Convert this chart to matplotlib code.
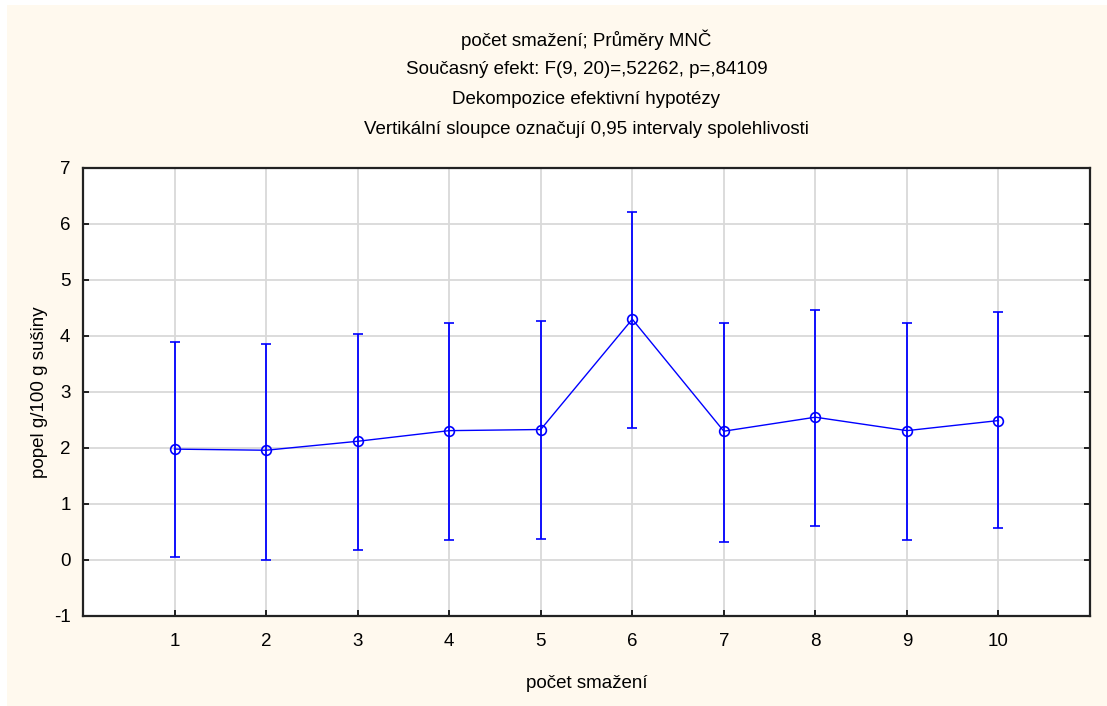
import matplotlib
matplotlib.use("Agg")
import matplotlib.pyplot as plt
import numpy as np
from matplotlib.patches import Rectangle

categories = [1, 2, 3, 4, 5, 6, 7, 8, 9, 10]
means = [1.98, 1.96, 2.12, 2.31, 2.33, 4.30, 2.30, 2.55, 2.31, 2.49]
upper = [3.90, 3.86, 4.03, 4.23, 4.27, 6.22, 4.23, 4.47, 4.23, 4.43]
lower = [0.05, 0.00, 0.17, 0.36, 0.37, 2.35, 0.33, 0.61, 0.36, 0.58]
y_ticks = [-1, 0, 1, 2, 3, 4, 5, 6, 7]

title_lines = [
    "počet smažení; Průměry MNČ",
    "Současný efekt: F(9, 20)=,52262, p=,84109",
    "Dekompozice efektivní hypotézy",
    "Vertikální sloupce označují 0,95 intervaly spolehlivosti",
]

plt.rcParams['font.family'] = ['Liberation Sans', 'DejaVu Sans']

fig = plt.figure(figsize=(11.07, 7.06), dpi=100, facecolor='white')
fig.patches.append(Rectangle((7/1107, 0), 1 - 7/1107, 1 - 5/706,
                             transform=fig.transFigure, facecolor='#FFF9EE',
                             edgecolor='none', zorder=-10))

ax = fig.add_axes([83/1107, 1 - 616/706, (1090-83)/1107, (616-168)/706])
ax.set_facecolor('white')

x = np.array(categories)
m = np.array(means)
yerr = [m - np.array(lower), np.array(upper) - m]
ax.errorbar(x, m, yerr=yerr, color='#0000FF', ecolor='#0000FF', elinewidth=1.3,
            capsize=3.5, capthick=1.3, linewidth=1.0, marker='o', markersize=7,
            markerfacecolor='none', markeredgecolor='#0000FF', markeredgewidth=1.2,
            zorder=3)

ax.set_xlim(0, 11)
ax.set_ylim(-1, 7)
ax.set_xticks(categories)
ax.set_xticklabels([str(c) for c in categories])
ax.set_yticks(y_ticks)
ax.set_yticklabels([str(t) for t in y_ticks])
ax.grid(True, color='#D9D9D9', linewidth=1.3, zorder=0)
ax.set_axisbelow(True)
ax.tick_params(axis='both', direction='in', length=4, width=1.2, labelsize=13.5,
               colors='black', top=False, right=True, pad=9)
ax.tick_params(axis='x', pad=12)
for s in ax.spines.values():
    s.set_linewidth(1.6)
    s.set_color('#222222')

ax.set_xlabel("počet smažení", fontsize=13.5, labelpad=18)
ax.set_ylabel("popel g/100 g sušiny", fontsize=13.5, labelpad=4)

ys = [40, 69, 100, 130]
for t, yy in zip(title_lines, ys):
    fig.text(0.5 * (83 + 1090) / 1107, 1 - yy / 706, t, ha='center', va='center', fontsize=13.5)

fig.savefig("out.png", dpi=100, facecolor=fig.get_facecolor())
